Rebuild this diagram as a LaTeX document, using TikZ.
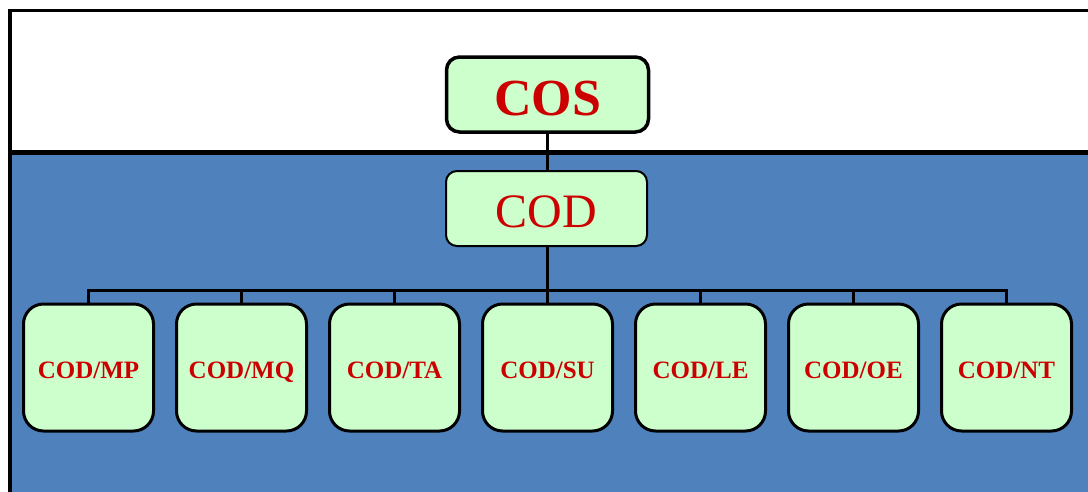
\documentclass[tikz,border=0pt]{standalone}
\usepackage{fontspec}
\setmainfont{Liberation Serif}
\definecolor{panelblue}{RGB}{79,129,189}
\definecolor{boxgreen}{RGB}{204,255,204}
\definecolor{labelred}{RGB}{204,0,0}
\tikzset{
  orgbox/.style={draw=black, fill=boxgreen, rounded corners=13pt, inner sep=0pt,
                 text=labelred, align=center, text depth=0pt},
  topbox/.style={orgbox, line width=3.5pt, minimum width=202pt, minimum height=75pt,
                 text height=42pt, font=\bfseries\fontsize{52}{60}\selectfont},
  midbox/.style={orgbox, line width=2pt, minimum width=201pt, minimum height=75pt,
                 rounded corners=11pt, text height=37pt, font=\fontsize{48}{56}\selectfont},
  unitbox/.style={orgbox, line width=3pt, minimum width=130pt, minimum height=127pt,
                  rounded corners=20pt, text height=21pt,
                  font=\bfseries\fontsize{25}{30}\selectfont},
  link/.style={draw=black, line width=3pt},
}
\begin{document}
\begin{tikzpicture}[x=1pt, y=-1pt]
  \useasboundingbox (0,0) rectangle (1088,491);
  \begin{scope}
    \clip (0,0) rectangle (1088,491);
    % upper white band and lower blue panel
    \fill[white] (0,0) rectangle (1088,491);
    \fill[panelblue] (10,152.5) rectangle (1100,500);
    \draw[line width=3.5pt] (10,500) -- (10,10.5) -- (1100,10.5);
    \draw[line width=4.5pt] (10,152.5) -- (1100,152.5);
  \end{scope}

  % hierarchy
  \node[topbox] (cos) at (547.5,94.5) {COS};
  \node[midbox] (cod) at (546.5,208.5) {COD};
  \coordinate (bus) at (547.5,290);

  \foreach \name/\unit [count=\i from 0] in
      {mp/MP, mq/MQ, ta/TA, su/SU, le/LE, oe/OE, nt/NT}
    \node[unitbox] (\name) at ({88.5+153*\i},367.5) {COD/\unit};

  \draw[link] (cos.south) -- (cos.south |- cod.north);
  \foreach \name in {mp,mq,ta,su,le,oe,nt}
    \draw[link] (cod.south -| bus) -- (bus) -| (\name.north);
\end{tikzpicture}
\end{document}
